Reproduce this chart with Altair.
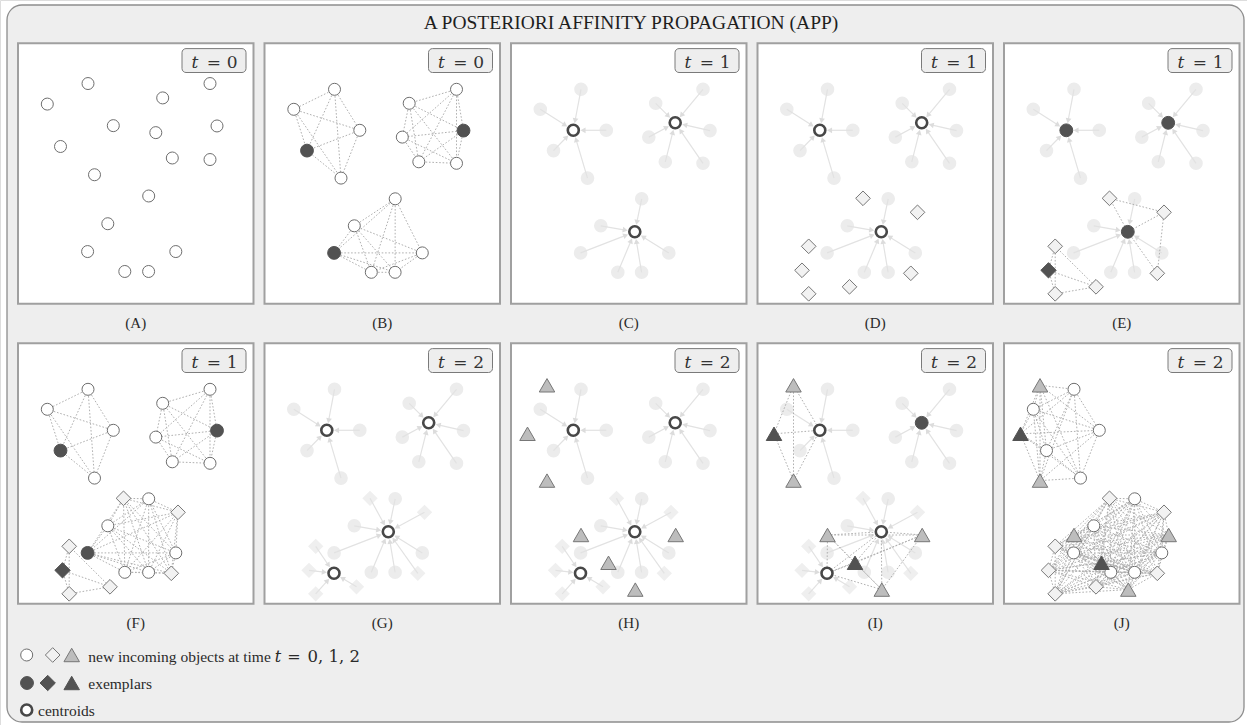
import math
import itertools
import altair as alt
import pandas as pd

W, H = 1247, 725

# ---------------------------------------------------------------- objects
# positions in pixels from a panel's top-left corner (y grows downward)
T0_IDS = [f"o{i}" for i in range(1, 18)]          # circles, arriving at t = 0
T0_X = [70.0, 29.3, 95.3, 42.5, 76.5, 192.0, 144.7, 199.0, 137.8, 154.3, 192.0,
        130.7, 89.8, 69.6, 157.8, 106.8, 130.6]
T0_Y = [46.0, 66.0, 87.0, 107.3, 134.8, 46.0, 60.0, 87.3, 93.8, 118.5, 120.0,
        155.5, 182.5, 209.6, 209.6, 229.0, 229.0]

T1_IDS = [f"d{i}" for i in range(1, 8)]           # diamonds, arriving at t = 1
T1_X = [105.5, 160.0, 51.2, 44.5, 51.2, 92.0, 153.3]
T1_Y = [155.0, 169.0, 203.0, 227.0, 250.5, 243.5, 230.0]

T2_IDS = [f"g{i}" for i in range(1, 8)]           # triangles, arriving at t = 2
T2_X = [36.0, 16.5, 36.0, 70.0, 97.5, 164.7, 124.3]
T2_Y = [42.0, 90.5, 137.3, 191.7, 219.5, 191.7, 246.3]

CEN_IDS = ["k1", "k2", "k3", "k4"]                # cluster centroids
CEN_X = [62.3, 164.2, 123.8, 69.5]
CEN_Y = [87.0, 79.5, 188.5, 230.0]

LETTERS = list("ABCDEFGHIJ")
TIMES = [0, 0, 1, 1, 1, 1, 2, 2, 2, 2]
TITLE = "A POSTERIORI AFFINITY PROPAGATION (APP)"
LEGEND_TEXT = ["new incoming objects at time", "exemplars", "centroids"]
LEGEND_MATH = ["t", "=", "0, 1, 2"]

# ---------------------------------------------------------------- groups
C1, C2, C3 = T0_IDS[0:5], T0_IDS[5:11], T0_IDS[11:17]
EX0 = ["o4", "o8", "o14"]
T1A, T1B = ["d1", "d2", "d7"], ["d3", "d4", "d5", "d6"]
T2A, T2B = ["g1", "g2", "g3"], ["g4", "g5", "g6", "g7"]
EX2 = ["g2", "g5"]


def minus(a, b):
    return [i for i in a if i not in b]


ARROWS_1 = [(C1, "k1"), (C2, "k2"), (C3, "k3")]
ARROWS_2 = [(C1, "k1"), (C2, "k2"), (C3 + T1A, "k3"), (T1B, "k4")]
FADED_1 = [("faded_circle", T0_IDS)]
FADED_2 = [("faded_circle", T0_IDS), ("faded_diamond", T1_IDS)]

SCENES = {
    "A": dict(nodes=[("open_circle", T0_IDS)]),
    "B": dict(cliques=[C1, C2, C3],
              nodes=[("open_circle", minus(T0_IDS, EX0)), ("ex_circle", EX0)]),
    "C": dict(faded=FADED_1, arrows=ARROWS_1,
              nodes=[("centroid", CEN_IDS[:3])]),
    "D": dict(faded=FADED_1, arrows=ARROWS_1,
              nodes=[("centroid", CEN_IDS[:3]), ("open_diamond", T1_IDS)]),
    "E": dict(faded=FADED_1, arrows=ARROWS_1,
              pairs=[("d1", "d2"), ("d1", "k3"), ("d2", "k3"), ("d2", "d7"), ("k3", "d7")],
              cliques=[T1B],
              nodes=[("ex_circle", CEN_IDS[:3]), ("open_diamond", minus(T1_IDS, ["d4"])),
                     ("ex_diamond", ["d4"])]),
    "F": dict(cliques=[C1, C2, C3 + T1A, T1B],
              nodes=[("open_circle", minus(T0_IDS, EX0)), ("ex_circle", EX0),
                     ("open_diamond", minus(T1_IDS, ["d4"])), ("ex_diamond", ["d4"])]),
    "G": dict(faded=FADED_2, arrows=ARROWS_2, nodes=[("centroid", CEN_IDS)]),
    "H": dict(faded=FADED_2, arrows=ARROWS_2,
              nodes=[("centroid", CEN_IDS), ("open_tri", T2_IDS)]),
    "I": dict(faded=FADED_2, arrows=ARROWS_2,
              cliques=[T2A + ["k1"], T2B + ["k3", "k4"]],
              nodes=[("centroid", ["k1", "k3", "k4"]), ("ex_circle", ["k2"]),
                     ("open_tri", minus(T2_IDS, EX2)), ("ex_tri", EX2)]),
    "J": dict(cliques=[C1 + T2A, C3 + T1_IDS + T2B],
              nodes=[("open_circle", C1 + C3), ("open_diamond", T1_IDS),
                     ("open_tri", minus(T2_IDS, EX2)), ("ex_tri", EX2)]),
}

# ---------------------------------------------------------------- layout
PANEL_X0, PANEL_DX, PANEL_W, PANEL_H = 18.0, 246.5, 235.5, 260.5
ROW_TOP = [43.3, 343.3]
CAPTION_BASE = [327.7, 628.4]
Y_FRAME = {"A": (1.027, -7.0)}   # panel A uses a slightly taller frame
TARGET_R = 7.2                   # radius where arrows stop at a centroid
HEAD_SIZE = 34

pos = {}
for ids, xs, ys in [(T0_IDS, T0_X, T0_Y), (T1_IDS, T1_X, T1_Y),
                    (T2_IDS, T2_X, T2_Y), (CEN_IDS, CEN_X, CEN_Y)]:
    for oid, x, y in zip(ids, xs, ys):
        pos[oid] = (x, y)


def origin(letter):
    i = LETTERS.index(letter)
    return PANEL_X0 + PANEL_DX * (i % 5), ROW_TOP[i // 5]


def place(letter, oid):
    ox, oy = origin(letter)
    lx, ly = pos[oid]
    s, sh = Y_FRAME.get(letter, (1.0, 0.0))
    return ox + lx, oy + s * ly + sh


nodes, faded, edges, shafts, heads = [], [], [], [], []
head_h = math.sqrt(3) / 2 * math.sqrt(HEAD_SIZE) / 2
for L, sc in SCENES.items():
    for style, ids in sc.get("faded", []):
        for oid in ids:
            x, y = place(L, oid)
            faded.append(dict(style=style, x=x, y=y))
    for style, ids in sc.get("nodes", []):
        for oid in ids:
            x, y = place(L, oid)
            nodes.append(dict(style=style, x=x, y=y))
    pairs = list(sc.get("pairs", []))
    for grp in sc.get("cliques", []):
        pairs += list(itertools.combinations(grp, 2))
    for a, b in pairs:
        (x, y), (x2, y2) = place(L, a), place(L, b)
        edges.append(dict(x=x, y=y, x2=x2, y2=y2))
    for ids, tgt in sc.get("arrows", []):
        tx, ty = place(L, tgt)
        for oid in ids:
            sx, sy = place(L, oid)
            dx, dy = tx - sx, ty - sy
            d = math.hypot(dx, dy)
            ux, uy = dx / d, dy / d
            hx, hy = tx - ux * (TARGET_R + head_h), ty - uy * (TARGET_R + head_h)
            shafts.append(dict(x=sx, y=sy, x2=hx, y2=hy))
            heads.append(dict(x=hx, y=hy, angle=math.degrees(math.atan2(ux, -uy)) % 360))

# legend symbols
for style, x, y in [("open_circle", 26.7, 655), ("open_diamond", 52.7, 655), ("open_tri", 71.7, 655),
                    ("ex_circle", 27.0, 683), ("ex_diamond", 47.7, 683), ("ex_tri", 71.7, 683),
                    ("centroid", 26.7, 710)]:
    nodes.append(dict(style=style, x=x, y=y))

nodes, faded = pd.DataFrame(nodes), pd.DataFrame(faded)
edges, shafts, heads = pd.DataFrame(edges), pd.DataFrame(shafts), pd.DataFrame(heads)

frames, boxes, captions, tl_t, tl_eq, tl_n = [], [], [], [], [], []
for L, t in zip(LETTERS, TIMES):
    ox, oy = origin(L)
    i = LETTERS.index(L)
    frames.append(dict(x=ox, x2=ox + PANEL_W, y=oy, y2=oy + PANEL_H))
    boxes.append(dict(x=ox + 164, x2=ox + 228, y=oy + 5.3, y2=oy + 29.2))
    captions.append(dict(x=ox + PANEL_W / 2, y=CAPTION_BASE[i // 5], text=f"({L})"))
    tl_t.append(dict(x=ox + 176.8, y=oy + 24.3, text="t"))
    tl_eq.append(dict(x=ox + 195.8, y=oy + 24.3, text="="))
    tl_n.append(dict(x=ox + 214.2, y=oy + 24.3, text=str(t)))

outer = pd.DataFrame([dict(x=7, x2=1244, y=5, y2=722)])
title = pd.DataFrame([dict(x=631, y=28.5, text=TITLE)])
leg_text = pd.DataFrame([dict(x=88.3, y=661.5, text=LEGEND_TEXT[0]),
                         dict(x=88.3, y=689.0, text=LEGEND_TEXT[1]),
                         dict(x=38.0, y=716.0, text=LEGEND_TEXT[2])])
leg_t = pd.DataFrame([dict(x=278.0, y=661.5, text=LEGEND_MATH[0])])
leg_eq = pd.DataFrame([dict(x=294.0, y=661.5, text=LEGEND_MATH[1])])
leg_n = pd.DataFrame([dict(x=307.5, y=661.5, text=LEGEND_MATH[2])])

# ---------------------------------------------------------------- marks
XS = alt.Scale(domain=[0, W], nice=False, zero=False)
YS = alt.Scale(domain=[0, H], nice=False, zero=False, reverse=True)


def enc_xy(two=False):
    e = dict(x=alt.X("x:Q", scale=XS, axis=None), y=alt.Y("y:Q", scale=YS, axis=None))
    if two:
        e.update(x2="x2:Q", y2="y2:Q")
    return e


STYLES = {
    "faded_circle": dict(shape="circle", size=185, fill="#ececec", strokeWidth=0),
    "faded_diamond": dict(shape="diamond", size=235, fill="#efefef", strokeWidth=0),
    "open_circle": dict(shape="circle", size=144, fill="#ffffff", stroke="#6e6e6e", strokeWidth=1),
    "ex_circle": dict(shape="circle", size=165, fill="#525252", stroke="#525252", strokeWidth=1),
    "open_diamond": dict(shape="diamond", size=215, fill="#f2f2f2", stroke="#777777", strokeWidth=1),
    "ex_diamond": dict(shape="diamond", size=235, fill="#525252", stroke="#525252", strokeWidth=1),
    "open_tri": dict(shape="triangle-up", size=240, fill="#bdbdbd", stroke="#777777", strokeWidth=1),
    "ex_tri": dict(shape="triangle-up", size=240, fill="#525252", stroke="#525252", strokeWidth=1),
    "centroid": dict(shape="circle", size=121, fill="#ffffff", stroke="#474747", strokeWidth=2.6),
}


def point_layer(df, style):
    sub = df[df["style"] == style]
    return alt.Chart(sub).mark_point(filled=True, opacity=1, **STYLES[style]).encode(**enc_xy())


def text_layer(df, **kw):
    base = dict(font="Liberation Serif", fontSize=15, color="#2a2a2a", baseline="alphabetic", align="center")
    base.update(kw)
    return alt.Chart(df).mark_text(**base).encode(**enc_xy(), text="text:N")


layers = [
    alt.Chart(outer).mark_rect(cornerRadius=15, fill="#eeeeee", stroke="#8d8d8d", strokeWidth=1.3)
       .encode(**enc_xy(True)),
    alt.Chart(pd.DataFrame(frames)).mark_rect(fill="#ffffff", stroke="#a0a0a0", strokeWidth=2)
       .encode(**enc_xy(True)),
    alt.Chart(pd.DataFrame(boxes)).mark_rect(cornerRadius=4, fill="#eeeeee", stroke="#7a7a7a", strokeWidth=1)
       .encode(**enc_xy(True)),
]
layers += [point_layer(faded, s) for s in ["faded_circle", "faded_diamond"]]
layers += [
    alt.Chart(shafts).mark_rule(color="#e2e2e2", strokeWidth=1.2).encode(**enc_xy(True)),
    alt.Chart(heads).mark_point(shape="triangle-up", size=HEAD_SIZE, filled=True, fill="#dcdcdc",
                                strokeWidth=0, opacity=1)
       .encode(**enc_xy(), angle=alt.Angle("angle:Q", scale=None)),
    alt.Chart(edges).mark_rule(color="#b0b0b0", strokeWidth=1, strokeDash=[1.6, 1.8]).encode(**enc_xy(True)),
]
layers += [point_layer(nodes, s) for s in ["open_circle", "ex_circle", "open_diamond", "ex_diamond",
                                           "open_tri", "ex_tri", "centroid"]]
layers += [
    text_layer(title, fontSize=19.5, color="#1e1e1e"),
    text_layer(pd.DataFrame(captions), fontSize=15),
    text_layer(pd.DataFrame(tl_t), font="DejaVu Serif", fontStyle="italic", fontSize=17, color="#333333"),
    text_layer(pd.DataFrame(tl_eq), font="DejaVu Serif", fontSize=17, color="#333333"),
    text_layer(pd.DataFrame(tl_n), font="DejaVu Serif", fontSize=17, color="#333333"),
    text_layer(leg_text, fontSize=15.5, align="left"),
    text_layer(leg_t, font="DejaVu Serif", fontStyle="italic", fontSize=16),
    text_layer(leg_eq, font="DejaVu Serif", fontSize=16),
    text_layer(leg_n, font="DejaVu Serif", fontSize=16.5, align="left"),
]

chart = (
    alt.layer(*layers)
    .properties(width=W, height=H, padding=0, autosize=alt.AutoSizeParams(type="none"))
    .configure_view(strokeWidth=0)
    .configure(background="#ffffff")
)

chart.save("out.html", embed_options={"renderer": "svg", "actions": False})
